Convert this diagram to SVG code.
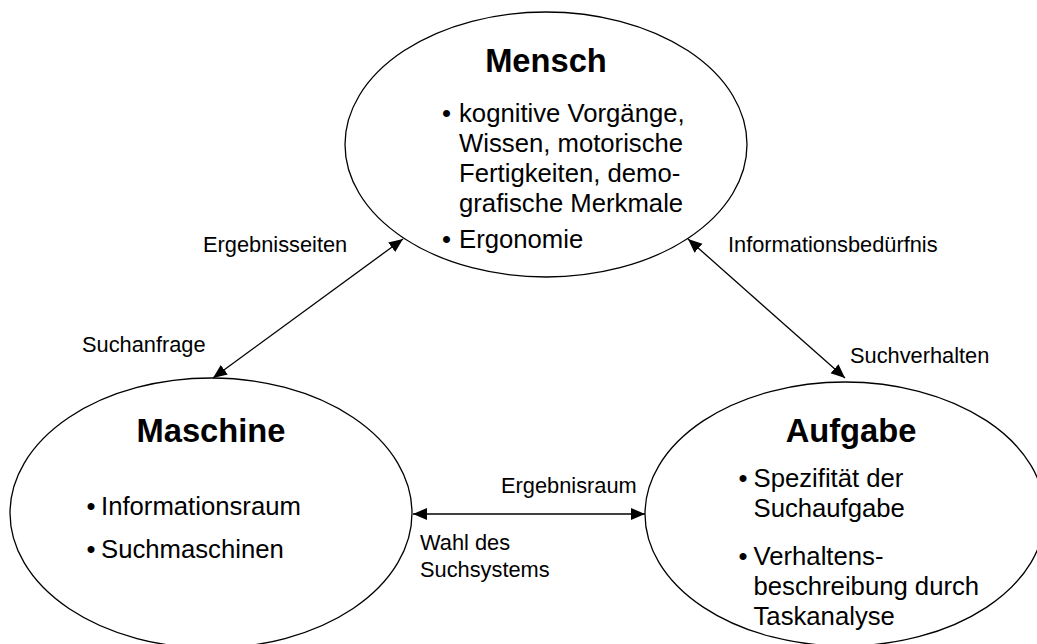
<svg xmlns="http://www.w3.org/2000/svg" width="1037" height="644" viewBox="0 0 1037 644">
  <style>
    .node ellipse { fill: #ffffff; stroke: #000000; stroke-width: 1.3; }
    .title { font-family: "Liberation Sans", Arial, sans-serif; font-weight: bold; font-size: 32.7px; fill: #000; text-anchor: middle; }
    .body { font-family: "Liberation Sans", Arial, sans-serif; font-size: 25.7px; fill: #000; }
    .lbl { font-family: "Liberation Sans", Arial, sans-serif; font-size: 21.8px; fill: #000; }
    .conn line { stroke: #000; stroke-width: 1.3; fill: none; }
  </style>
  <defs>
    <marker id="ah" markerUnits="userSpaceOnUse" markerWidth="16" markerHeight="14" refX="14" refY="6" orient="auto-start-reverse" viewBox="0 0 16 14">
      <path d="M0,0 L14,6 L0,12 z" fill="#000"/>
    </marker>
  </defs>
  <rect x="0" y="0" width="1037" height="644" fill="#ffffff"/>

  <g id="mensch" class="node">
    <ellipse cx="546" cy="144.5" rx="201" ry="132.5"/>
    <text class="title" x="546" y="72">Mensch</text>
    <text class="body" x="442" y="121.5">•</text>
    <text class="body" x="459" y="121.5">kognitive Vorgänge,</text>
    <text class="body" x="459" y="151.5">Wissen, motorische</text>
    <text class="body" x="459" y="181.5">Fertigkeiten, demo-</text>
    <text class="body" x="459" y="211.5">grafische Merkmale</text>
    <text class="body" x="442" y="248">•</text>
    <text class="body" x="459" y="248">Ergonomie</text>
  </g>

  <g id="maschine" class="node">
    <ellipse cx="211" cy="513" rx="201" ry="135"/>
    <text class="title" x="211" y="442">Maschine</text>
    <text class="body" x="86.5" y="515">•</text>
    <text class="body" x="101" y="515">Informationsraum</text>
    <text class="body" x="86.5" y="558">•</text>
    <text class="body" x="101" y="558">Suchmaschinen</text>
  </g>

  <g id="aufgabe" class="node">
    <ellipse cx="845" cy="514" rx="200" ry="132"/>
    <text class="title" x="851" y="442">Aufgabe</text>
    <text class="body" x="738.5" y="487">•</text>
    <text class="body" x="753.5" y="487">Spezifität der</text>
    <text class="body" x="753.5" y="517">Suchaufgabe</text>
    <text class="body" x="738.5" y="565">•</text>
    <text class="body" x="753.5" y="565">Verhaltens-</text>
    <text class="body" x="753.5" y="595">beschreibung durch</text>
    <text class="body" x="753.5" y="625">Taskanalyse</text>
  </g>

  <g id="connectors" class="conn">
    <line x1="213" y1="378" x2="403" y2="239" marker-start="url(#ah)" marker-end="url(#ah)"/>
    <line x1="688" y1="239" x2="845" y2="378" marker-start="url(#ah)" marker-end="url(#ah)"/>
    <line x1="413" y1="514" x2="645" y2="514" marker-start="url(#ah)" marker-end="url(#ah)"/>
  </g>

  <g id="labels">
    <text class="lbl" x="203" y="252">Ergebnisseiten</text>
    <text class="lbl" x="82" y="352">Suchanfrage</text>
    <text class="lbl" x="728" y="252">Informationsbedürfnis</text>
    <text class="lbl" x="850" y="363">Suchverhalten</text>
    <text class="lbl" x="501" y="493">Ergebnisraum</text>
    <text class="lbl" x="420" y="550">Wahl des</text>
    <text class="lbl" x="420" y="577">Suchsystems</text>
  </g>
</svg>
